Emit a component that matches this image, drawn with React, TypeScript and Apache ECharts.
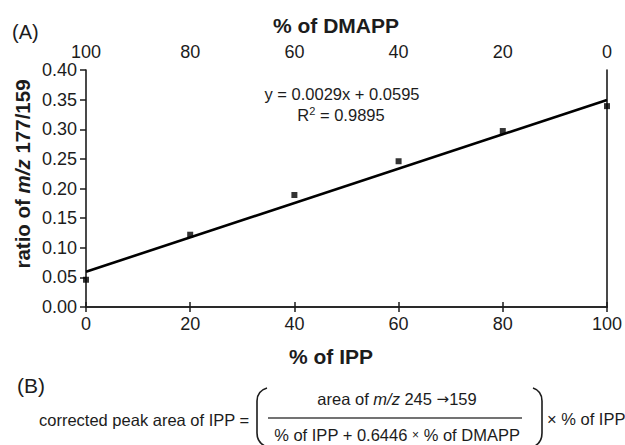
import React, { useEffect, useRef } from "react";
import * as echarts from "echarts";

const ippPercent = [0, 20, 40, 60, 80, 100];
const ratioValues = [0.046, 0.122, 0.189, 0.246, 0.297, 0.339];
const trendX = [0, 100];
const trendY = [0.0595, 0.3495];
const xTicks = [0, 20, 40, 60, 80, 100];
const yTickStep = 0.05;

const FONT = "Liberation Sans, Arial, sans-serif";
const INK = "#1c1c1c";

echarts.graphic.registerShape(
  "lparen",
  echarts.graphic.extendPath("M 267 388 Q 257 391 257 401 L 257 433 Q 257 443 267 447", {})
);
echarts.graphic.registerShape(
  "rparen",
  echarts.graphic.extendPath("M 533 388 Q 542 391 542 401 L 542 433 Q 542 443 533 447", {})
);

export default function App() {
  const ref = useRef<HTMLDivElement>(null);
  useEffect(() => {
    if (!ref.current) return;
    const chart = echarts.init(ref.current, undefined, { renderer: "svg" });
    const axisLine = { show: true, lineStyle: { color: INK, width: 1.6 } };
    const label = { color: INK, fontSize: 18, fontFamily: FONT };
    const option: any = {
      animation: false,
      backgroundColor: "#ffffff",
      grid: { left: 86, right: 17, top: 70, bottom: 138 },
      xAxis: [
        {
          type: "value",
          position: "bottom",
          min: xTicks[0],
          max: xTicks[xTicks.length - 1],
          interval: 20,
          axisLine,
          axisTick: { show: true, inside: false, length: 5, lineStyle: { color: INK, width: 1.5 } },
          axisLabel: { ...label, margin: 8 },
          splitLine: { show: false },
        },
        {
          type: "value",
          position: "top",
          inverse: true,
          min: 0,
          max: 100,
          interval: 20,
          axisLine,
          axisTick: { show: true, inside: false, length: 5, lineStyle: { color: INK, width: 1.5 } },
          axisLabel: { ...label, margin: 9 },
          splitLine: { show: false },
        },
      ],
      yAxis: [
        {
          type: "value",
          position: "left",
          min: 0,
          max: 0.4,
          interval: yTickStep,
          axisLine,
          axisTick: { show: true, inside: false, length: 6, lineStyle: { color: INK, width: 1.5 } },
          axisLabel: { ...label, margin: 9, formatter: (v: number) => v.toFixed(2) },
          splitLine: { show: false },
        },
        {
          type: "value",
          position: "right",
          min: 0,
          max: 0.4,
          interval: yTickStep,
          axisLine,
          axisTick: { show: false },
          axisLabel: { show: false },
          splitLine: { show: false },
        },
      ],
      series: [
        {
          type: "line",
          xAxisIndex: 0,
          yAxisIndex: 0,
          data: trendX.map((x, i) => [x, trendY[i]]),
          showSymbol: false,
          lineStyle: { color: "#000", width: 2.6 },
          z: 2,
        },
        {
          type: "scatter",
          xAxisIndex: 0,
          yAxisIndex: 0,
          data: ippPercent.map((x, i) => [x, ratioValues[i]]),
          symbol: "rect",
          symbolSize: 6,
          itemStyle: { color: "#000" },
          z: 3,
        },
      ],
      graphic: [
        { type: "text", x: 12, y: 32, style: { text: "(A)", font: `20px ${FONT}`, fill: INK, align: "left", verticalAlign: "middle" } },
        { type: "text", x: 336, y: 25, style: { text: "% of DMAPP", font: `bold 21px ${FONT}`, fill: INK, align: "center", verticalAlign: "middle" } },
        { type: "text", x: 331, y: 356, style: { text: "% of IPP", font: `bold 21px ${FONT}`, fill: INK, align: "center", verticalAlign: "middle" } },
        {
          type: "text",
          x: 22,
          y: 174,
          rotation: Math.PI / 2,
          style: {
            text: "{b|ratio of }{bi|m/z}{b| 177/159}",
            align: "center",
            verticalAlign: "middle",
            rich: {
              b: { fontFamily: FONT, fontWeight: "bold", fontSize: 20.5, fill: INK },
              bi: { fontFamily: FONT, fontWeight: "bold", fontStyle: "italic", fontSize: 20.5, fill: INK },
            },
          },
        },
        { type: "text", x: 342, y: 94, style: { text: "y = 0.0029x + 0.0595", font: `16.5px ${FONT}`, fill: INK, align: "center", verticalAlign: "middle" } },
        {
          type: "text",
          x: 341,
          y: 115,
          style: {
            text: "{n|R}{s|2}{n| = 0.9895}",
            align: "center",
            verticalAlign: "middle",
            rich: {
              n: { fontFamily: FONT, fontSize: 16.5, fill: INK },
              s: { fontFamily: FONT, fontSize: 11, fill: INK, verticalAlign: "top", padding: [0, 0, 8, 0] },
            },
          },
        },
        { type: "text", x: 17, y: 385, style: { text: "(B)", font: `21px ${FONT}`, fill: INK, align: "left", verticalAlign: "middle" } },
        { type: "text", x: 39, y: 420, style: { text: "corrected peak area of IPP =", font: `16.5px ${FONT}`, fill: INK, align: "left", verticalAlign: "middle" } },
        {
          type: "text",
          x: 397,
          y: 399,
          style: {
            text: "{n|area of }{i|m/z}{n| 245 }{a|\u2192}{n|159}",
            align: "center",
            verticalAlign: "middle",
            rich: {
              n: { fontFamily: FONT, fontSize: 16.5, fill: INK },
              i: { fontFamily: FONT, fontStyle: "italic", fontSize: 16.5, fill: INK },
              a: { fontFamily: "DejaVu Sans", fontSize: 15, fill: INK },
            },
          },
        },
        { type: "line", shape: { x1: 268, y1: 418, x2: 522, y2: 418 }, style: { stroke: "#444", lineWidth: 1.3 } },
        {
          type: "text",
          x: 397,
          y: 435,
          style: {
            text: "{n|% of IPP + 0.6446 }{m|\u00d7}{n| % of DMAPP}",
            align: "center",
            verticalAlign: "middle",
            rich: {
              n: { fontFamily: FONT, fontSize: 16.5, fill: INK },
              m: { fontFamily: FONT, fontSize: 12, fill: INK },
            },
          },
        },
        { type: "lparen", x: 0, y: 0, style: { stroke: INK, fill: "none", lineWidth: 1.6 } },
        { type: "rparen", x: 0, y: 0, style: { stroke: INK, fill: "none", lineWidth: 1.6 } },
        { type: "text", x: 547, y: 419, style: { text: "\u00d7 % of IPP", font: `16.5px ${FONT}`, fill: INK, align: "left", verticalAlign: "middle" } },
      ],
    };
    chart.setOption(option);
    return () => chart.dispose();
  }, []);
  return (
    <div
      ref={ref}
      style={{ position: "fixed", left: 0, top: 0, width: 625, height: 445, background: "#fff" }}
    />
  );
}
